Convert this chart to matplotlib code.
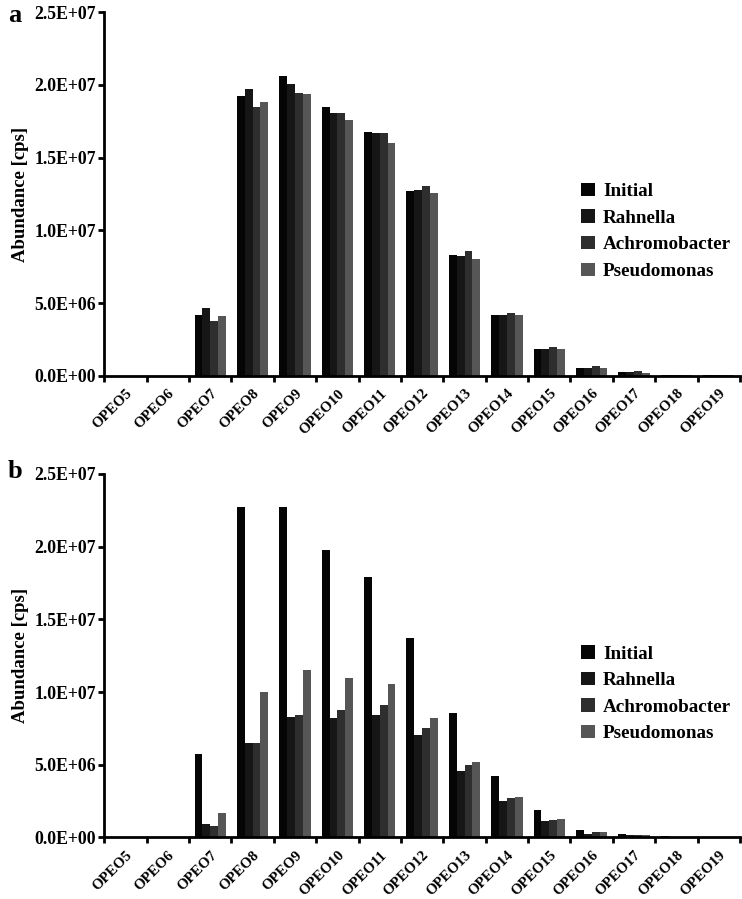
import numpy as np
import matplotlib
matplotlib.use("Agg")
import matplotlib.pyplot as plt
from matplotlib.ticker import FixedLocator, FuncFormatter

plt.rcParams['font.family'] = ['Liberation Serif', 'DejaVu Serif']
plt.rcParams['font.weight'] = 'bold'

categories = ["OPEO5", "OPEO6", "OPEO7", "OPEO8", "OPEO9", "OPEO10", "OPEO11",
              "OPEO12", "OPEO13", "OPEO14", "OPEO15", "OPEO16", "OPEO17",
              "OPEO18", "OPEO19"]
series_names = ["Initial", "Rahnella", "Achromobacter", "Pseudomonas"]
colors = ["#050505", "#161616", "#2e2e2e", "#565656"]

# Panel a
a_initial = [0, 0, 4.20e6, 19.24e6, 20.60e6, 18.50e6, 16.77e6, 12.73e6, 8.32e6, 4.20e6, 1.82e6, 0.51e6, 0.23e6, 0.06e6, 0.02e6]
a_rahnella = [0, 0, 4.68e6, 19.72e6, 20.10e6, 18.07e6, 16.70e6, 12.78e6, 8.23e6, 4.20e6, 1.82e6, 0.51e6, 0.23e6, 0.05e6, 0.02e6]
a_achromo = [0, 0, 3.76e6, 18.50e6, 19.47e6, 18.07e6, 16.70e6, 13.03e6, 8.58e6, 4.33e6, 1.97e6, 0.69e6, 0.32e6, 0.06e6, 0.02e6]
a_pseudo = [0, 0, 4.10e6, 18.80e6, 19.36e6, 17.60e6, 16.03e6, 12.55e6, 8.00e6, 4.20e6, 1.82e6, 0.51e6, 0.20e6, 0.05e6, 0.02e6]

# Panel b
b_initial = [0, 0, 5.74e6, 22.70e6, 22.70e6, 19.77e6, 17.90e6, 13.74e6, 8.53e6, 4.22e6, 1.88e6, 0.50e6, 0.25e6, 0.07e6, 0.02e6]
b_rahnella = [0, 0, 0.92e6, 6.47e6, 8.30e6, 8.21e6, 8.40e6, 7.02e6, 4.54e6, 2.48e6, 1.14e6, 0.23e6, 0.18e6, 0.03e6, 0.01e6]
b_achromo = [0, 0, 0.80e6, 6.47e6, 8.40e6, 8.74e6, 9.13e6, 7.50e6, 4.95e6, 2.70e6, 1.21e6, 0.34e6, 0.17e6, 0.03e6, 0.01e6]
b_pseudo = [0, 0, 1.66e6, 10.00e6, 11.52e6, 10.96e6, 10.57e6, 8.21e6, 5.18e6, 2.77e6, 1.30e6, 0.34e6, 0.15e6, 0.03e6, 0.01e6]

yticks = [0, 5e6, 1e7, 1.5e7, 2e7, 2.5e7]

fig = plt.figure(figsize=(7.42, 8.99), dpi=100)
W, H = 742, 899

def make_axes(top_px, zero_px):
    left = 104.3 / W
    right = 740.0 / W
    bottom = 1 - zero_px / H
    top = 1 - top_px / H
    return fig.add_axes([left, bottom, right - left, top - bottom])

def fmt(v, pos):
    return "%.1E" % v

def draw(ax, data, legend_top):
    x = np.arange(len(categories))
    w = 0.185
    for i, (vals, name, c) in enumerate(zip(data, series_names, colors)):
        ax.bar(x + (i - 1.5) * w, vals, width=w, color=c, label=name,
               edgecolor='none', linewidth=0)
    ax.set_xlim(-0.5, len(categories) - 0.5)
    ax.set_ylim(0, 2.5e7)
    ax.set_yticks(yticks)
    ax.yaxis.set_major_formatter(FuncFormatter(fmt))
    ax.set_xticks(x)
    ax.set_xticklabels(categories, rotation=45, ha='right', va='top',
                       rotation_mode='anchor', fontsize=10.8, fontweight='bold')
    ax.xaxis.set_minor_locator(FixedLocator(np.arange(-0.5, len(categories) + 0.5, 1.0)))
    ax.tick_params(axis='x', which='major', length=0, pad=8)
    ax.tick_params(axis='x', which='minor', length=4, width=2, direction='out')
    ax.tick_params(axis='y', length=4, width=2, direction='out', labelsize=12.8, pad=2)
    for lab in ax.get_yticklabels():
        lab.set_fontweight('bold')
    for s in ['top', 'right']:
        ax.spines[s].set_visible(False)
    for s in ['left', 'bottom']:
        ax.spines[s].set_linewidth(2)
    ax.set_ylabel("Abundance [cps]", fontsize=13.5, fontweight='bold')
    ax.yaxis.set_label_coords(-0.118, 0.5)
    leg = ax.legend(loc='upper left', bbox_to_anchor=(0.738, legend_top),
                    frameon=False, fontsize=13.8, handlelength=0.7, handleheight=0.7,
                    handletextpad=0.45, labelspacing=0.48, borderaxespad=0)
    for t in leg.get_texts():
        t.set_fontweight('bold')

ax1 = make_axes(12.3, 375.7)
draw(ax1, [a_initial, a_rahnella, a_achromo, a_pseudo], 0.552)
ax2 = make_axes(474.0, 837.4)
draw(ax2, [b_initial, b_rahnella, b_achromo, b_pseudo], 0.55)

fig.text(8 / W, 1 - 15 / H, "a", fontsize=19, fontweight='bold', va='center', ha='left')
fig.text(8 / W, 1 - 471 / H, "b", fontsize=19, fontweight='bold', va='center', ha='left')

fig.savefig("out.png", dpi=100)
